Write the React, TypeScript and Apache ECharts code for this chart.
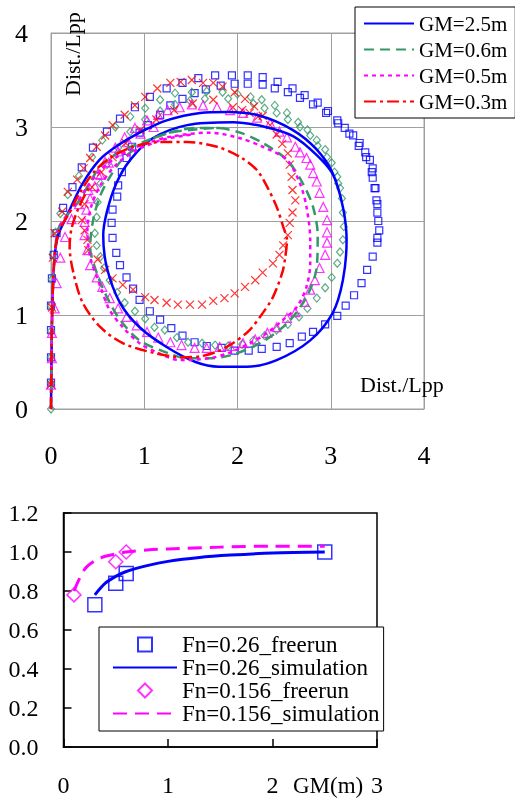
import React, { useEffect, useRef } from "react";
import * as echarts from "echarts";

type P = [number, number];

// ---------- Top chart: turning trajectories (Dist./Lpp) ----------
const topTicks = [0, 1, 2, 3, 4];
const topLegend = ["GM=2.5m", "GM=0.6m", "GM=0.5m", "GM=0.3m"];

const simGM25: P[] = [
  [0, 0], [0.005, 0.5], [0.012, 1.0], [0.025, 1.4], [0.045, 1.68], [0.08, 1.86], [0.14, 1.99], [0.2, 2.12],
  [0.34, 2.4], [0.52, 2.65], [0.71, 2.8], [0.95, 2.94], [1.24, 3.07], [1.6, 3.15], [1.9, 3.16], [2.24, 3.12],
  [2.59, 2.97], [2.85, 2.76], [3.02, 2.51], [3.13, 2.15], [3.17, 1.8], [3.13, 1.37], [3.02, 1.02], [2.78, 0.73],
  [2.42, 0.52], [2.1, 0.45], [1.8, 0.45], [1.55, 0.5], [1.24, 0.66], [0.95, 0.87], [0.74, 1.13], [0.6, 1.5],
  [0.56, 1.85], [0.6, 2.1], [0.7, 2.4], [0.85, 2.65], [1.09, 2.88], [1.46, 3.02], [1.95, 3.05], [2.3, 3.0],
  [2.6, 2.9], [2.85, 2.7], [3.02, 2.5], [3.12, 2.2],
];
const simGM06: P[] = [
  [0, 0], [0.005, 0.5], [0.012, 1.0], [0.025, 1.4], [0.045, 1.7], [0.08, 1.92], [0.18, 2.07], [0.29, 2.2],
  [0.4, 2.38], [0.52, 2.57], [0.71, 2.72], [0.99, 2.84], [1.28, 2.94], [1.52, 2.97], [1.77, 2.99], [2.03, 2.94],
  [2.27, 2.83], [2.53, 2.65], [2.7, 2.4], [2.81, 2.15], [2.86, 1.85], [2.85, 1.51], [2.74, 1.19], [2.53, 0.91],
  [2.24, 0.7], [1.92, 0.57], [1.7, 0.54], [1.46, 0.54], [1.24, 0.6], [0.95, 0.73], [0.74, 0.95], [0.6, 1.19],
  [0.49, 1.45], [0.42, 1.72], [0.45, 2.0], [0.52, 2.25], [0.62, 2.45], [0.77, 2.66], [1.03, 2.85], [1.31, 2.95],
  [1.56, 2.99], [1.81, 2.99],
];
const simGM05: P[] = [
  [0, 0], [0.005, 0.5], [0.012, 1.0], [0.025, 1.4], [0.045, 1.7], [0.08, 1.92], [0.17, 2.06], [0.27, 2.18],
  [0.38, 2.35], [0.52, 2.53], [0.72, 2.69], [1.0, 2.82], [1.3, 2.9], [1.7, 2.94], [2.03, 2.88], [2.27, 2.79],
  [2.53, 2.65], [2.67, 2.4], [2.74, 2.15], [2.78, 1.8], [2.78, 1.55], [2.74, 1.3], [2.64, 1.09], [2.49, 0.95],
  [2.32, 0.81], [2.13, 0.7], [1.92, 0.6], [1.7, 0.54], [1.38, 0.52], [1.14, 0.6], [0.95, 0.7], [0.77, 0.87],
  [0.63, 1.05], [0.53, 1.3], [0.42, 1.62], [0.39, 1.9], [0.43, 2.15], [0.53, 2.38], [0.7, 2.6], [0.93, 2.76],
  [1.22, 2.87], [1.52, 2.92],
];
const simGM03: P[] = [
  [0, 0], [0.005, 0.5], [0.012, 1.0], [0.025, 1.4], [0.045, 1.7], [0.09, 1.9], [0.18, 2.06], [0.31, 2.3],
  [0.45, 2.51], [0.63, 2.67], [0.88, 2.79], [1.17, 2.84], [1.46, 2.84], [1.78, 2.79], [2.03, 2.68], [2.21, 2.54],
  [2.32, 2.36], [2.42, 2.15], [2.49, 1.94], [2.53, 1.8], [2.51, 1.6], [2.48, 1.45], [2.38, 1.19], [2.27, 1.02],
  [2.13, 0.84], [1.95, 0.7], [1.78, 0.61], [1.6, 0.56], [1.41, 0.55], [1.09, 0.6], [0.77, 0.7], [0.53, 0.87],
  [0.34, 1.13], [0.24, 1.45], [0.2, 1.72], [0.22, 1.92], [0.3, 2.15], [0.42, 2.38],
];

const expGM25: P[] = [
  [0, 0.28], [0, 0.55], [0, 0.84], [0, 1.1], [0.01, 1.39], [0.03, 1.64], [0.06, 1.87], [0.13, 2.14], [0.23, 2.36],
  [0.33, 2.57], [0.45, 2.78], [0.6, 2.95], [0.74, 3.09], [0.9, 3.21], [1.06, 3.32], [1.24, 3.41], [1.41, 3.47],
  [1.58, 3.52], [1.76, 3.55], [1.94, 3.55], [2.11, 3.55], [2.27, 3.53], [2.43, 3.48], [2.59, 3.41], [2.72, 3.34],
  [2.86, 3.26], [2.97, 3.17], [3.07, 3.07], [3.15, 2.99], [3.24, 2.91], [3.31, 2.83], [3.37, 2.73], [3.42, 2.65],
  [3.45, 2.56], [3.45, 2.46], [3.47, 2.35], [3.49, 2.22], [3.5, 2.09], [3.52, 1.9], [3.5, 1.77], [3.45, 1.62],
  [3.39, 1.48], [3.33, 1.34], [3.25, 1.21], [3.16, 1.1], [3.07, 0.99], [2.94, 0.9], [2.81, 0.82], [2.69, 0.77],
  [2.56, 0.7], [2.42, 0.66], [2.26, 0.64], [2.12, 0.62], [1.97, 0.62], [1.83, 0.65], [1.67, 0.67], [1.54, 0.71],
  [1.41, 0.78], [1.29, 0.86], [1.17, 0.95], [1.06, 1.04], [0.95, 1.16], [0.88, 1.28], [0.81, 1.4], [0.74, 1.53],
  [0.7, 1.66], [0.66, 1.82], [0.65, 1.98], [0.66, 2.12], [0.71, 2.26], [0.72, 2.38], [0.76, 2.52], [0.81, 2.67],
  [0.87, 2.79], [0.95, 2.94], [1.04, 3.02], [1.17, 3.13], [1.28, 3.23], [1.41, 3.3], [1.54, 3.36], [1.66, 3.4],
  [1.82, 3.44], [1.97, 3.46], [2.11, 3.46], [2.27, 3.45], [2.4, 3.41], [2.54, 3.37], [2.67, 3.31], [2.81, 3.24],
  [2.95, 3.15], [3.08, 3.04], [3.2, 2.93], [3.3, 2.8], [3.38, 2.68], [3.44, 2.52], [3.48, 2.35], [3.5, 2.18],
  [3.51, 2.0], [3.5, 1.82],
];
const expGM06: P[] = [
  [0, 0], [0, 0.28], [0, 0.55], [0, 0.83], [0, 1.1], [0.01, 1.38], [0.02, 1.64], [0.05, 1.88], [0.1, 2.08],
  [0.18, 2.28], [0.3, 2.48], [0.44, 2.68], [0.55, 2.86], [0.69, 3.0], [0.85, 3.11], [1.01, 3.2], [1.17, 3.29],
  [1.33, 3.36], [1.51, 3.37], [1.67, 3.38], [1.84, 3.37], [2.0, 3.35], [2.14, 3.32], [2.26, 3.29], [2.4, 3.23],
  [2.53, 3.15], [2.65, 3.05], [2.75, 2.97], [2.85, 2.86], [2.94, 2.76], [3.01, 2.62], [3.07, 2.47], [3.1, 2.35],
  [3.12, 2.24], [3.13, 2.09], [3.14, 1.94], [3.13, 1.8], [3.1, 1.67], [3.07, 1.55], [3.01, 1.4], [2.94, 1.29],
  [2.85, 1.18], [2.75, 1.07], [2.66, 0.98], [2.54, 0.9], [2.42, 0.84], [2.29, 0.78], [2.17, 0.73], [2.05, 0.69],
  [1.9, 0.67], [1.76, 0.68], [1.62, 0.7], [1.47, 0.71], [1.35, 0.76], [1.22, 0.84], [1.11, 0.87], [1.01, 0.96],
  [0.9, 1.04], [0.79, 1.13], [0.71, 1.24], [0.63, 1.37], [0.57, 1.5], [0.53, 1.62], [0.49, 1.74], [0.47, 1.87],
  [0.49, 2.04], [0.5, 2.2], [0.53, 2.4], [0.6, 2.6], [0.72, 2.78], [0.85, 2.95], [1.01, 3.08], [1.17, 3.17],
  [1.33, 3.24], [1.49, 3.28], [1.65, 3.3], [1.9, 3.3], [2.17, 3.25], [2.29, 3.2], [2.42, 3.15], [2.54, 3.08],
  [2.67, 3.0], [2.78, 2.91], [2.86, 2.8], [2.96, 2.68], [3.04, 2.52], [3.08, 2.4],
];
const expGM05: P[] = [
  [0, 0.26], [0.01, 0.54], [0.01, 0.81], [0.04, 1.07], [0.06, 1.34], [0.1, 1.61], [0.15, 1.83], [0.22, 2.02],
  [0.3, 2.18], [0.4, 2.33], [0.5, 2.5], [0.58, 2.63], [0.69, 2.78], [0.79, 2.89], [0.9, 2.99], [1.03, 3.07],
  [1.15, 3.13], [1.25, 3.18], [1.38, 3.21], [1.51, 3.24], [1.63, 3.23], [1.78, 3.21], [1.92, 3.18], [2.06, 3.15],
  [2.21, 3.1], [2.35, 3.04], [2.45, 2.95], [2.53, 2.89], [2.62, 2.79], [2.67, 2.73], [2.74, 2.67], [2.78, 2.6],
  [2.81, 2.51], [2.85, 2.42], [2.88, 2.3], [2.92, 2.15], [2.96, 2.01], [2.96, 1.88], [2.96, 1.77], [2.94, 1.64],
  [2.88, 1.5], [2.83, 1.37], [2.78, 1.27], [2.72, 1.14], [2.62, 1.03], [2.53, 0.97], [2.42, 0.87], [2.32, 0.81],
  [2.19, 0.74], [2.06, 0.7], [1.92, 0.67], [1.81, 0.66], [1.67, 0.65], [1.54, 0.65], [1.4, 0.68], [1.28, 0.71],
  [1.15, 0.76], [1.03, 0.82], [0.92, 0.89], [0.81, 0.98], [0.72, 1.07], [0.63, 1.18], [0.55, 1.3], [0.49, 1.4],
  [0.42, 1.53], [0.39, 1.69], [0.36, 1.85], [0.36, 1.99], [0.38, 2.12], [0.42, 2.24], [0.47, 2.37], [0.53, 2.49],
  [0.62, 2.62], [0.72, 2.74], [0.83, 2.84], [0.96, 2.93], [1.1, 3.0],
];
const expGM03: P[] = [
  [0, 0.26], [0.01, 1.08], [0.02, 1.61], [0.04, 1.87], [0.12, 2.1], [0.18, 2.31], [0.28, 2.44], [0.35, 2.56],
  [0.42, 2.67], [0.49, 2.79], [0.58, 2.91], [0.66, 3.02], [0.79, 3.13], [0.9, 3.23], [1.01, 3.32], [1.14, 3.41],
  [1.28, 3.47], [1.39, 3.48], [1.51, 3.5], [1.63, 3.47], [1.74, 3.47], [1.84, 3.43], [1.97, 3.37], [2.08, 3.3],
  [2.18, 3.22], [2.27, 3.12], [2.35, 3.02], [2.42, 2.92], [2.48, 2.82], [2.54, 2.72], [2.56, 2.6], [2.58, 2.47],
  [2.59, 2.33], [2.62, 2.22], [2.59, 2.09], [2.56, 1.98], [2.54, 1.85], [2.49, 1.74], [2.45, 1.64], [2.38, 1.55],
  [2.27, 1.45], [2.19, 1.37], [2.08, 1.3], [1.97, 1.23], [1.86, 1.18], [1.74, 1.15], [1.62, 1.11], [1.49, 1.11],
  [1.36, 1.11], [1.24, 1.13], [1.11, 1.16], [1.01, 1.19], [0.88, 1.27], [0.77, 1.32], [0.66, 1.39], [0.58, 1.48],
  [0.5, 1.59], [0.4, 1.69], [0.39, 1.8], [0.36, 1.9], [0.33, 2.01], [0.36, 2.18], [0.44, 2.36], [0.54, 2.52],
  [0.66, 2.68], [0.8, 2.83], [0.96, 2.97], [1.13, 3.08], [1.32, 3.18], [1.52, 3.25], [1.74, 3.29], [1.95, 3.21],
  [2.05, 3.18], [2.13, 3.15], [2.22, 3.11],
];

// ---------- Bottom chart: ratio vs GM(m) ----------
const bottomXTicks = [0, 1, 2, 3];
const bottomYTicks = [0, 0.2, 0.4, 0.6, 0.8, 1.0, 1.2];
const bottomLegend = ["Fn=0.26_freerun", "Fn=0.26_simulation", "Fn=0.156_freerun", "Fn=0.156_simulation"];
const gmFree026 = [0.3, 0.5, 0.6, 2.5];
const valFree026 = [0.73, 0.84, 0.89, 1.0];
const gmSim026 = [0.3, 0.4, 0.5, 0.6, 0.8, 1.0, 1.3, 1.6, 2.0, 2.5];
const valSim026 = [0.78, 0.84, 0.875, 0.9, 0.93, 0.952, 0.972, 0.984, 0.995, 1.0];
const gmFree0156 = [0.1, 0.5, 0.6];
const valFree0156 = [0.78, 0.95, 1.0];
const gmSim0156 = [0.1, 0.2, 0.3, 0.4, 0.5, 0.6, 0.8, 1.0, 1.5, 2.0, 2.5];
const valSim0156 = [0.8, 0.91, 0.955, 0.978, 0.99, 1.0, 1.01, 1.016, 1.025, 1.03, 1.03];

const zip = (xs: number[], ys: number[]): P[] => xs.map((x, i) => [x, ys[i]]);

const FONT = "Liberation Serif";
const BLUE = "#0000ff";
const GREEN = "#339966";
const MAGENTA = "#ff00ff";
const RED = "#ff0000";
const GRID_GREY = "#a0a0a0";
const SQUARE_ICON = "path://M0,0L10,0L10,10L0,10Z";
const DIAMOND_ICON = "path://M5,0L10,5L5,10L0,5Z";

export default function App() {
  const ref = useRef<HTMLDivElement>(null);
  useEffect(() => {
    const chart = echarts.init(ref.current!, null, { renderer: "svg" });
    const line = (name: string, data: P[], color: string, type: any, width: number, axis: number) => ({
      type: "line",
      name,
      xAxisIndex: axis,
      yAxisIndex: axis,
      data,
      symbol: "none",
      smooth: 0.3,
      itemStyle: { color },
      lineStyle: { color, width, type },
      z: 3,
    });
    const marks = (name: string, data: P[], color: string, symbol: string, size: any, bw: number, axis: number) => ({
      type: "scatter",
      name,
      xAxisIndex: axis,
      yAxisIndex: axis,
      data,
      symbol,
      symbolSize: size,
      itemStyle: { color: "none", borderColor: color, borderWidth: bw },
      z: 2,
    });
    const hideSym = { opacity: 0 };
    chart.setOption({
      animation: false,
      textStyle: { fontFamily: FONT },
      grid: [
        { left: 51, top: 33, width: 373, height: 376, show: true, borderColor: GRID_GREY, borderWidth: 1 },
        { left: 63.5, top: 513, width: 313.5, height: 234, show: true, borderColor: "#000", borderWidth: 1.5 },
      ],
      xAxis: [
        {
          gridIndex: 0, type: "value", min: topTicks[0], max: topTicks[topTicks.length - 1], interval: 1,
          axisLine: { show: true, lineStyle: { color: GRID_GREY } },
          axisTick: { show: true, inside: true, length: 8, lineStyle: { color: GRID_GREY } },
          splitLine: { show: true, lineStyle: { color: GRID_GREY, width: 1 } },
          axisLabel: { margin: 33, fontSize: 26, color: "#000", fontFamily: FONT },
        },
        {
          gridIndex: 1, type: "value", min: bottomXTicks[0], max: bottomXTicks[bottomXTicks.length - 1], interval: 1,
          axisLine: { show: true, lineStyle: { color: "#000", width: 1.5 } },
          axisTick: { show: true, inside: true, length: 8, lineStyle: { color: "#000", width: 1.5 } },
          splitLine: { show: false },
          axisLabel: { margin: 26, fontSize: 24, color: "#000", fontFamily: FONT },
        },
      ],
      yAxis: [
        {
          gridIndex: 0, type: "value", min: topTicks[0], max: topTicks[topTicks.length - 1], interval: 1,
          axisLine: { show: true, lineStyle: { color: GRID_GREY } },
          axisTick: { show: true, inside: true, length: 8, lineStyle: { color: GRID_GREY } },
          splitLine: { show: true, lineStyle: { color: GRID_GREY, width: 1 } },
          axisLabel: { margin: 23, fontSize: 26, color: "#000", fontFamily: FONT },
        },
        {
          gridIndex: 1, type: "value", min: bottomYTicks[0], max: bottomYTicks[bottomYTicks.length - 1], interval: 0.2,
          axisLine: { show: true, lineStyle: { color: "#000", width: 1.5 } },
          axisTick: { show: true, inside: true, length: 8, lineStyle: { color: "#000", width: 1.5 } },
          splitLine: { show: false },
          axisLabel: { margin: 25, fontSize: 24, color: "#000", fontFamily: FONT, formatter: (v: number) => v.toFixed(1) },
        },
      ],
      legend: [
        {
          data: topLegend,
          orient: "vertical",
          left: 355,
          top: 7,
          padding: [6, 8, 6, 8],
          itemWidth: 50,
          itemHeight: 14,
          itemGap: 5,
          itemStyle: hideSym,
          backgroundColor: "#fff",
          borderColor: "#000",
          borderWidth: 1,
          textStyle: { fontSize: 21, lineHeight: 21, color: "#000", fontFamily: FONT },
        },
        {
          data: [
            { name: bottomLegend[0], icon: SQUARE_ICON },
            { name: bottomLegend[1], itemStyle: hideSym },
            { name: bottomLegend[2], icon: DIAMOND_ICON },
            { name: bottomLegend[3], itemStyle: hideSym },
          ],
          orient: "vertical",
          left: 99,
          top: 627,
          padding: [6, 4, 6, 13],
          itemWidth: 64,
          itemHeight: 14,
          itemGap: 0,
          symbolKeepAspect: true,
          backgroundColor: "#fff",
          borderColor: "#000",
          borderWidth: 1,
          textStyle: { fontSize: 23, lineHeight: 23, color: "#000", fontFamily: FONT },
        },
      ],
      series: [
        marks("GM=2.5m exp", expGM25, BLUE, "rect", 7, 1.2, 0),
        marks("GM=0.6m exp", expGM06, GREEN, "diamond", [7, 8], 1.2, 0),
        marks("GM=0.5m exp", expGM05, MAGENTA, "triangle", 9, 1.2, 0),
        marks("GM=0.3m exp", expGM03, RED, "path://M0,0L10,10M10,0L0,10", 8, 1.2, 0),
        line(topLegend[0], simGM25, BLUE, "solid", 2.5, 0),
        line(topLegend[1], simGM06, GREEN, [10, 6], 2.5, 0),
        line(topLegend[2], simGM05, MAGENTA, [4, 4], 2.5, 0),
        line(topLegend[3], simGM03, RED, [12, 4, 3, 4], 2.5, 0),
        marks(bottomLegend[0], zip(gmFree026, valFree026), BLUE, "rect", 14, 1.5, 1),
        line(bottomLegend[1], zip(gmSim026, valSim026), BLUE, "solid", 3, 1),
        marks(bottomLegend[2], zip(gmFree0156, valFree0156), MAGENTA, "diamond", 14, 1.5, 1),
        line(bottomLegend[3], zip(gmSim0156, valSim0156), MAGENTA, [14, 8], 3, 1),
      ],
      graphic: [
        {
          type: "text", x: 72, y: 96, rotation: Math.PI / 2, z: 10,
          style: { text: "Dist./Lpp", fontSize: 22, fontFamily: FONT, fill: "#000", textAlign: "left", textVerticalAlign: "middle" },
        },
        {
          type: "text", x: 360, y: 384, z: 10,
          style: { text: "Dist./Lpp", fontSize: 22, fontFamily: FONT, fill: "#000", textAlign: "left", textVerticalAlign: "middle" },
        },
        {
          type: "text", x: 293, y: 785, z: 10,
          style: { text: "GM(m)", fontSize: 23, fontFamily: FONT, fill: "#000", textAlign: "left", textVerticalAlign: "middle" },
        },
      ],
    });
    return () => chart.dispose();
  }, []);
  return <div ref={ref} style={{ position: "fixed", left: 0, top: 0, width: 515, height: 799 }} />;
}
